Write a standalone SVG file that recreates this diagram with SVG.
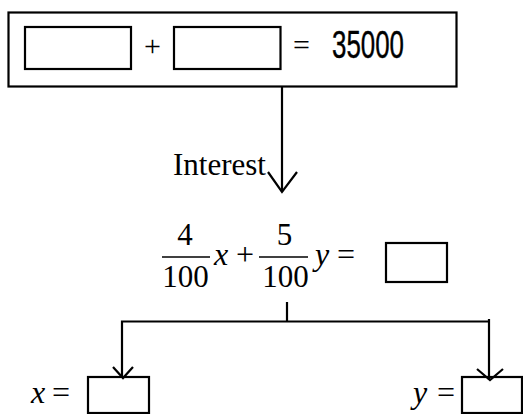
<svg xmlns="http://www.w3.org/2000/svg" width="523" height="414" viewBox="0 0 523 414">
<style>
.bx{fill:#fff;stroke:#000;stroke-width:2.2}
.ln{fill:none;stroke:#000;stroke-width:2.2}
.bar{stroke:#000;stroke-width:1.5}
.serif{font-family:"Liberation Serif","Times New Roman",serif;fill:#000}
.it{font-style:italic}
.sans{font-family:"Liberation Sans",Arial,sans-serif;fill:#000}
</style>
<rect width="523" height="414" fill="#fff"/>
<g id="sum">
<rect x="8.5" y="12.5" width="448" height="74" class="bx" stroke-width="2.8"/>
<rect x="25" y="27" width="106" height="42" class="bx"/>
<text x="152.5" y="56" class="serif" font-size="30" text-anchor="middle">+</text>
<rect x="174" y="27" width="106.5" height="42" class="bx"/>
<text x="301.5" y="55" class="serif" font-size="30" text-anchor="middle">=</text>
<text x="332" y="58" class="sans" font-size="39" textLength="72" lengthAdjust="spacingAndGlyphs" stroke="#000" stroke-width="0.4">35000</text>
</g>
<g id="interest-label">
<text x="173" y="175" class="serif" font-size="31">Interest</text>
</g>
<g id="equation">
<text x="185" y="245" class="serif" font-size="31" text-anchor="middle">4</text>
<line x1="162" y1="257" x2="210" y2="257" class="bar"/>
<text x="185.5" y="287" class="serif" font-size="31" text-anchor="middle">100</text>
<text x="214" y="265" class="serif it" font-size="32">x</text>
<text x="245" y="265" class="serif" font-size="32" text-anchor="middle">+</text>
<text x="284.5" y="245" class="serif" font-size="31" text-anchor="middle">5</text>
<line x1="259" y1="257" x2="308" y2="257" class="bar"/>
<text x="285.5" y="287" class="serif" font-size="31" text-anchor="middle">100</text>
<text x="315" y="265" class="serif it" font-size="32">y</text>
<text x="346" y="265" class="serif" font-size="32" text-anchor="middle">=</text>
<rect x="386" y="243" width="61" height="39" class="bx"/>
</g>
<g id="x-result">
<text x="31" y="403" class="serif it" font-size="32">x</text>
<text x="61" y="403" class="serif" font-size="32" text-anchor="middle">=</text>
<rect x="88" y="377" width="61" height="36" class="bx"/>
</g>
<g id="y-result">
<text x="413" y="403" class="serif it" font-size="32">y</text>
<text x="446" y="403" class="serif" font-size="32" text-anchor="middle">=</text>
<rect x="462" y="377" width="60" height="36" class="bx"/>
</g>
<g id="connectors">
<line x1="282" y1="87" x2="282" y2="192" class="ln"/>
<polyline points="268,172 282,192 297,172" class="ln"/>
<line x1="287" y1="302" x2="287" y2="322" class="ln"/>
<polyline points="122,378 122,321.5 489,321.5" class="ln"/>
<line x1="489" y1="319" x2="489" y2="380" class="ln"/>
<polyline points="113,367 123,378 133,367" class="ln"/>
<polyline points="477,369 490,380 503,369" class="ln"/>
</g>
</svg>
